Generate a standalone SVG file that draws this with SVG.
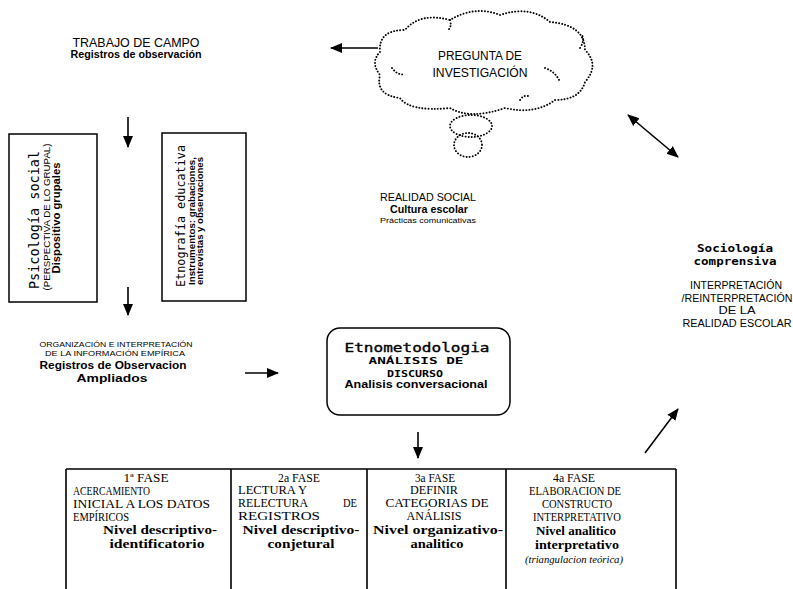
<svg xmlns="http://www.w3.org/2000/svg" width="793" height="589" viewBox="0 0 793 589">
<style>
.sans{font-family:"Liberation Sans",Arial,sans-serif;fill:#000}
.mono{font-family:"DejaVu Sans Mono","Liberation Mono",monospace;fill:#000}
.serif{font-family:"Liberation Serif","Times New Roman",serif;fill:#000}
.cap{font-family:"Liberation Serif","Times New Roman",serif;fill:#000;font-size:11.5px}
.nv{font-family:"Liberation Serif","Times New Roman",serif;fill:#000;font-size:13px;font-weight:bold}
.b{font-weight:bold}
.box{fill:#fff;stroke:#000;stroke-width:1.5}
.line{stroke:#000;stroke-width:1.6;fill:none}
.cloud{fill:none;stroke:#000;stroke-width:1.9;stroke-dasharray:0.1 3;stroke-linecap:round}
</style>
<defs>
<marker id="ah" markerUnits="userSpaceOnUse" markerWidth="12" markerHeight="12" refX="11" refY="5" orient="auto-start-reverse" viewBox="0 0 12 10">
<path d="M0,0 L12,5 L0,10 z" fill="#000"/>
</marker>
</defs>
<rect width="793" height="589" fill="#fff"/>

<g id="trabajo">
<text class="sans" x="136" y="47" font-size="13" text-anchor="middle" textLength="127" lengthAdjust="spacingAndGlyphs">TRABAJO DE CAMPO</text>
<text class="sans b" x="136" y="58" font-size="10" text-anchor="middle" textLength="131" lengthAdjust="spacingAndGlyphs">Registros de observación</text>
</g>

<g id="pregunta">
<path class="cloud" d="M380 52 Q378 30 405 30 Q420 12 450 20 Q475 5 500 15 Q530 5 550 22 Q585 25 585 50 Q600 65 585 82 Q580 100 555 100 Q535 115 505 108 Q470 120 450 108 Q410 112 400 98 Q375 95 380 75 Q370 62 380 52 Z"/>
<path class="cloud" d="M392 68 Q398 76 405 74 M545 68 Q556 72 560 82 M580 48 Q585 40 582 35 M450 20 Q452 27 448 30 M520 100 Q523 95 528 96"/>
<ellipse class="cloud" cx="471" cy="126" rx="21" ry="11"/>
<ellipse class="cloud" cx="468" cy="145" rx="14" ry="12"/>
<text class="sans" x="480" y="60" font-size="12" text-anchor="middle" textLength="84" lengthAdjust="spacingAndGlyphs">PREGUNTA DE</text>
<text class="sans" x="480" y="77" font-size="12" text-anchor="middle" textLength="95" lengthAdjust="spacingAndGlyphs">INVESTIGACIÓN</text>
</g>

<g id="realidad">
<text class="sans" x="428" y="201" font-size="11" text-anchor="middle" textLength="96" lengthAdjust="spacingAndGlyphs">REALIDAD SOCIAL</text>
<text class="sans b" x="429" y="213" font-size="10" text-anchor="middle" textLength="78" lengthAdjust="spacingAndGlyphs">Cultura escolar</text>
<text class="sans" x="428" y="223" font-size="8" text-anchor="middle" textLength="96" lengthAdjust="spacingAndGlyphs">Prácticas comunicativas</text>
</g>

<g id="psicologia">
<rect class="box" x="9" y="134" width="88" height="168"/>
<text class="mono" transform="translate(39,220) rotate(-90)" font-size="13.5" text-anchor="middle" textLength="138" lengthAdjust="spacingAndGlyphs">Psicología social</text>
<text class="sans" transform="translate(50,217) rotate(-90)" font-size="8.5" text-anchor="middle" textLength="147" lengthAdjust="spacingAndGlyphs">(PERSPECTIVA DE LO GRUPAL)</text>
<text class="sans b" transform="translate(60,218) rotate(-90)" font-size="10.5" text-anchor="middle" textLength="111" lengthAdjust="spacingAndGlyphs">Dispositivo grupales</text>
</g>

<g id="etnografia">
<rect class="box" x="162" y="133" width="84" height="168"/>
<text class="mono" transform="translate(185,287) rotate(-90)" font-size="11.5" textLength="142" lengthAdjust="spacingAndGlyphs">Etnografía educativa</text>
<text class="sans b" transform="translate(195,285) rotate(-90)" font-size="9" textLength="128" lengthAdjust="spacingAndGlyphs">Instrumentos: grabaciones,</text>
<text class="sans b" transform="translate(203,285) rotate(-90)" font-size="9" textLength="128" lengthAdjust="spacingAndGlyphs">entrevistas y observaciones</text>
</g>

<g id="organizacion">
<text class="sans" x="116" y="347" font-size="7" text-anchor="middle" textLength="153" lengthAdjust="spacingAndGlyphs">ORGANIZACIÓN E INTERPRETACIÓN</text>
<text class="sans" x="115" y="356" font-size="7" text-anchor="middle" textLength="140" lengthAdjust="spacingAndGlyphs">DE LA INFORMACIÓN EMPÍRICA</text>
<text class="sans b" x="113" y="369" font-size="11.5" text-anchor="middle" textLength="147" lengthAdjust="spacingAndGlyphs">Registros de Observacion</text>
<text class="sans b" x="112" y="382" font-size="11.5" text-anchor="middle" textLength="71" lengthAdjust="spacingAndGlyphs">Ampliados</text>
</g>

<g id="etnometodologia">
<rect class="box" x="327" y="328" width="183" height="87" rx="13" ry="13" stroke-width="1.8"/>
<text class="mono" x="417" y="352" font-size="13" text-anchor="middle" textLength="145" lengthAdjust="spacingAndGlyphs" stroke="#000" stroke-width="0.35">Etnometodologia</text>
<text class="mono b" x="416" y="364" font-size="9.5" text-anchor="middle" textLength="95" lengthAdjust="spacingAndGlyphs">ANÁLISIS DE</text>
<text class="mono b" x="415" y="377" font-size="9.5" text-anchor="middle" textLength="56" lengthAdjust="spacingAndGlyphs">DISCURSO</text>
<text class="sans b" x="416" y="388" font-size="11" text-anchor="middle" textLength="143" lengthAdjust="spacingAndGlyphs">Analisis conversacional</text>
</g>

<g id="sociologia">
<text class="mono b" x="735" y="251.5" font-size="11" text-anchor="middle" textLength="76" lengthAdjust="spacingAndGlyphs">Sociología</text>
<text class="mono b" x="735" y="265" font-size="11" text-anchor="middle" textLength="83" lengthAdjust="spacingAndGlyphs">comprensiva</text>
<text class="sans" x="736" y="289" font-size="10" text-anchor="middle" textLength="92" lengthAdjust="spacingAndGlyphs">INTERPRETACIÓN</text>
<text class="sans" x="737" y="302" font-size="10" text-anchor="middle" textLength="111" lengthAdjust="spacingAndGlyphs">/REINTERPRETACIÓN</text>
<text class="sans" x="737" y="314" font-size="10" text-anchor="middle" textLength="37" lengthAdjust="spacingAndGlyphs">DE LA</text>
<text class="sans" x="737" y="327" font-size="10" text-anchor="middle" textLength="109" lengthAdjust="spacingAndGlyphs">REALIDAD ESCOLAR</text>
</g>

<g id="fases">
<path class="line" d="M66 469 H676 M66 469 V595 M231 469 V595 M367 469 V595 M506 469 V595 M676 469 V595" stroke-width="1.6"/>
<g id="fase1">
<text class="cap" x="146" y="482" text-anchor="middle" textLength="45" lengthAdjust="spacingAndGlyphs">1ª FASE</text>
<text class="cap" x="73" y="495" textLength="77" lengthAdjust="spacingAndGlyphs">ACERCAMIENTO</text>
<text class="cap" x="73" y="508" textLength="137" lengthAdjust="spacingAndGlyphs">INICIAL A LOS DATOS</text>
<text class="cap" x="73" y="521" textLength="56" lengthAdjust="spacingAndGlyphs">EMPÍRICOS</text>
<text class="nv" x="160" y="534" text-anchor="middle" textLength="114" lengthAdjust="spacingAndGlyphs">Nivel descriptivo-</text>
<text class="nv" x="157" y="548" text-anchor="middle" textLength="95" lengthAdjust="spacingAndGlyphs">identificatorio</text>
</g>
<g id="fase2">
<text class="cap" x="299" y="482" text-anchor="middle" textLength="42" lengthAdjust="spacingAndGlyphs">2a FASE</text>
<text class="cap" x="238" y="494" textLength="69" lengthAdjust="spacingAndGlyphs">LECTURA Y</text>
<text class="cap" x="238" y="507" textLength="70" lengthAdjust="spacingAndGlyphs">RELECTURA</text>
<text class="cap" x="357" y="507" text-anchor="end" textLength="14" lengthAdjust="spacingAndGlyphs">DE</text>
<text class="cap" x="238" y="520" textLength="82" lengthAdjust="spacingAndGlyphs">REGISTROS</text>
<text class="nv" x="301" y="534" text-anchor="middle" textLength="117" lengthAdjust="spacingAndGlyphs">Nivel descriptivo-</text>
<text class="nv" x="301" y="548" text-anchor="middle" textLength="67" lengthAdjust="spacingAndGlyphs">conjetural</text>
</g>
<g id="fase3">
<text class="cap" x="435" y="482" text-anchor="middle" textLength="40" lengthAdjust="spacingAndGlyphs">3a FASE</text>
<text class="cap" x="434" y="494" text-anchor="middle" textLength="48" lengthAdjust="spacingAndGlyphs">DEFINIR</text>
<text class="cap" x="437" y="507" text-anchor="middle" textLength="103" lengthAdjust="spacingAndGlyphs">CATEGORIAS DE</text>
<text class="cap" x="434" y="520" text-anchor="middle" textLength="55" lengthAdjust="spacingAndGlyphs">ANÁLISIS</text>
<text class="nv" x="438" y="534" text-anchor="middle" textLength="130" lengthAdjust="spacingAndGlyphs">Nivel organizativo-</text>
<text class="nv" x="437" y="548" text-anchor="middle" textLength="53" lengthAdjust="spacingAndGlyphs">analitico</text>
</g>
<g id="fase4">
<text class="cap" x="574" y="482" text-anchor="middle" textLength="42" lengthAdjust="spacingAndGlyphs">4a FASE</text>
<text class="cap" x="575" y="495" text-anchor="middle" textLength="92" lengthAdjust="spacingAndGlyphs">ELABORACION DE</text>
<text class="cap" x="577" y="508" text-anchor="middle" textLength="70" lengthAdjust="spacingAndGlyphs">CONSTRUCTO</text>
<text class="cap" x="577" y="521" text-anchor="middle" textLength="88" lengthAdjust="spacingAndGlyphs">INTERPRETATIVO</text>
<text class="nv" x="576" y="535" text-anchor="middle" textLength="80" lengthAdjust="spacingAndGlyphs">Nivel analitico</text>
<text class="nv" x="577" y="549" text-anchor="middle" textLength="84" lengthAdjust="spacingAndGlyphs">interpretativo</text>
<text class="serif" x="574" y="563" font-size="11" font-style="italic" text-anchor="middle" textLength="98" lengthAdjust="spacingAndGlyphs">(triangulacion teórica)</text>
</g>
</g>

<g id="connectors">
<line class="line" x1="128" y1="117" x2="128" y2="147" marker-end="url(#ah)"/>
<line class="line" x1="128" y1="287" x2="128" y2="315" marker-end="url(#ah)"/>
<line class="line" x1="378" y1="48" x2="331" y2="48" marker-end="url(#ah)"/>
<line class="line" x1="628" y1="115" x2="678" y2="157" stroke-width="2" marker-start="url(#ah)" marker-end="url(#ah)"/>
<line class="line" x1="245" y1="373" x2="278" y2="373" marker-end="url(#ah)"/>
<line class="line" x1="418" y1="432" x2="418" y2="458" marker-end="url(#ah)"/>
<line class="line" x1="645" y1="453" x2="678" y2="409" stroke-width="1.8" marker-end="url(#ah)"/>
</g>
</svg>
